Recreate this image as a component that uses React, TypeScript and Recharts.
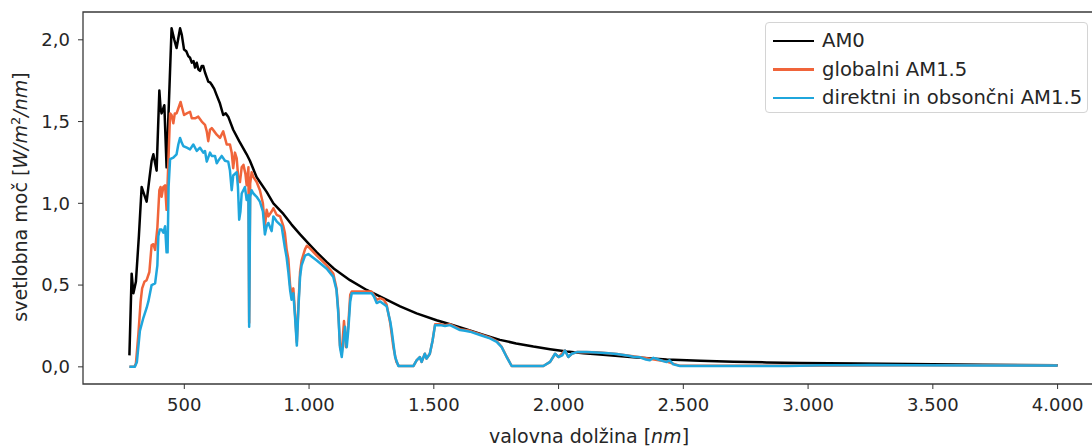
import { LineChart, Line, XAxis, YAxis, ReferenceArea } from 'recharts';

// wavelength [nm] / spectral irradiance [W/m2/nm]
const am0Wl = [
  280, 289, 296, 306, 318, 329, 340, 349, 360, 369, 376, 389, 400, 405, 409, 420, 429, 449, 460, 469,
  476, 483, 490, 499, 508, 516, 523, 530, 537, 543, 550, 556, 563, 570, 576, 583, 590, 596, 603, 610,
  620, 630, 643, 656, 666, 676, 696, 720, 750, 763, 790, 803, 830, 857, 897, 930, 964, 1000, 1031, 1071,
  1100, 1164, 1231, 1298, 1365, 1431, 1511, 1565, 1632, 1700, 1765, 1830, 1899, 1966, 2033, 2100, 2166, 2300, 2433, 2567,
  2700, 2834, 2968, 3200, 3400, 3700, 4000,
];
const am0Val = [
  0.07, 0.57, 0.45, 0.52, 0.8, 1.1, 1.05, 1.01, 1.15, 1.26, 1.3, 1.2, 1.69, 1.58, 1.55, 1.6, 1.22, 2.07, 2.0, 1.95,
  2.01, 2.07, 2.03, 1.94, 1.93, 1.9, 1.89, 1.86, 1.87, 1.83, 1.86, 1.82, 1.81, 1.84, 1.84, 1.8, 1.77, 1.745, 1.74, 1.725,
  1.7, 1.66, 1.61, 1.54, 1.55, 1.53, 1.45, 1.38, 1.3, 1.26, 1.16, 1.13, 1.07, 1.0, 0.935, 0.87, 0.81, 0.75, 0.7, 0.64,
  0.6, 0.53, 0.47, 0.42, 0.37, 0.327, 0.285, 0.26, 0.228, 0.195, 0.165, 0.143, 0.124, 0.108, 0.094, 0.083, 0.075, 0.058, 0.045, 0.037,
  0.031, 0.027, 0.024, 0.02, 0.017, 0.013, 0.01,
];

const globalWl = [
  280, 300, 306, 316, 325, 331, 340, 349, 360, 369, 376, 383, 392, 400, 405, 409, 416, 423, 429, 436,
  443, 449, 456, 462, 469, 476, 485, 492, 499, 510, 523, 530, 543, 556, 570, 583, 590, 596, 603, 610,
  620, 630, 643, 656, 663, 670, 683, 690, 696, 703, 710, 717, 723, 730, 737, 745, 750, 757, 760, 764,
  770, 777, 790, 803, 815, 823, 830, 837, 850, 857, 870, 884, 897, 903, 910, 917, 924, 930, 937, 944,
  951, 958, 964, 970, 984, 991, 1000, 1031, 1071, 1097, 1110, 1117, 1124, 1131, 1140, 1148, 1157, 1165, 1171, 1200,
  1250, 1260, 1271, 1285, 1300, 1311, 1325, 1338, 1350, 1360, 1418, 1431, 1444, 1451, 1464, 1471, 1484, 1495, 1505, 1525,
  1545, 1565, 1605, 1645, 1685, 1725, 1752, 1772, 1792, 1812, 1939, 1966, 1986, 2000, 2026, 2039, 2053, 2073, 2153, 2233,
  2327, 2433, 2487, 2914, 3400, 4000,
];
const globalVal = [
  0, 0, 0.02, 0.2, 0.4, 0.48, 0.52, 0.53, 0.58, 0.745, 0.75, 0.715, 0.85, 1.08, 1.1, 1.04, 1.1, 1.11, 0.96, 1.25,
  1.55, 1.54, 1.49, 1.55, 1.55, 1.58, 1.62, 1.58, 1.54, 1.55, 1.56, 1.52, 1.52, 1.53, 1.5, 1.48, 1.44, 1.38, 1.45, 1.46,
  1.44, 1.42, 1.4, 1.44, 1.4, 1.36, 1.36, 1.31, 1.215, 1.31, 1.275, 1.14, 1.13, 1.22, 1.235, 1.18, 1.11, 1.22, 0.27, 1.12,
  1.19, 1.16, 1.13, 1.08, 1.0, 0.86, 0.96, 0.92, 0.95, 0.97, 0.93, 0.92, 0.86, 0.82, 0.72, 0.66, 0.5, 0.44, 0.48, 0.32,
  0.15, 0.4, 0.58, 0.65, 0.72, 0.74, 0.73, 0.68, 0.62, 0.57, 0.48, 0.35, 0.13, 0.08, 0.28, 0.12, 0.25, 0.44, 0.46, 0.46,
  0.46, 0.44, 0.41, 0.42, 0.41, 0.38, 0.27, 0.12, 0.03, 0.005, 0.005, 0.04, 0.06, 0.03, 0.08, 0.05, 0.08, 0.16, 0.26, 0.26,
  0.255, 0.26, 0.23, 0.22, 0.2, 0.178, 0.157, 0.123, 0.062, 0.005, 0.005, 0.03, 0.08, 0.06, 0.1, 0.06, 0.08, 0.09, 0.089, 0.079,
  0.059, 0.032, 0.006, 0.006, 0.01, 0.009,
];

const directWl = [
  280, 302, 310, 322, 336, 349, 356, 369, 383, 392, 396, 402, 409, 416, 423, 429, 433, 437, 443, 456,
  469, 476, 483, 490, 496, 510, 523, 536, 550, 563, 576, 583, 590, 603, 610, 623, 630, 636, 650, 663,
  676, 683, 690, 696, 710, 715, 720, 725, 730, 743, 750, 757, 760, 764, 770, 777, 790, 803, 815, 823,
  830, 837, 850, 857, 870, 890, 903, 910, 917, 924, 930, 937, 944, 951, 958, 964, 970, 984, 997, 1031,
  1071, 1097, 1110, 1117, 1124, 1131, 1144, 1151, 1157, 1165, 1171, 1200, 1251, 1260, 1271, 1285, 1311, 1325, 1331, 1345,
  1358, 1418, 1431, 1444, 1451, 1464, 1471, 1484, 1495, 1505, 1525, 1545, 1565, 1585, 1605, 1625, 1645, 1685, 1725, 1752,
  1772, 1792, 1812, 1939, 1966, 1986, 2000, 2015, 2026, 2039, 2053, 2073, 2113, 2153, 2200, 2233, 2280, 2300, 2327, 2350,
  2366, 2380, 2400, 2420, 2433, 2445, 2460, 2487, 2914, 2968, 3050, 3168, 3250, 3400, 3700, 4000,
];
const directVal = [
  0, 0, 0.03, 0.22, 0.3, 0.36, 0.4, 0.5, 0.51, 0.62, 0.8, 0.84, 0.84, 0.82, 0.86, 0.7, 0.7, 1.1, 1.27, 1.28,
  1.3, 1.36, 1.4, 1.37, 1.35, 1.34, 1.33, 1.36, 1.32, 1.34, 1.31, 1.32, 1.255, 1.31, 1.29, 1.29, 1.245, 1.26, 1.29, 1.26,
  1.255, 1.2, 1.08, 1.17, 1.19, 1.1, 0.9, 0.95, 1.06, 1.1, 1.02, 1.05, 0.245, 1.04, 1.08, 1.06, 1.04, 1.01, 0.95, 0.81,
  0.86, 0.88, 0.83, 0.92, 0.89, 0.86, 0.73, 0.67, 0.58, 0.47, 0.41, 0.45, 0.3, 0.13, 0.38, 0.55, 0.62, 0.68, 0.69, 0.65,
  0.6, 0.55, 0.47, 0.33, 0.12, 0.06, 0.245, 0.12, 0.22, 0.4, 0.45, 0.45, 0.45, 0.43, 0.39, 0.4, 0.37, 0.28, 0.225, 0.06,
  0.005, 0.005, 0.04, 0.06, 0.03, 0.08, 0.05, 0.08, 0.16, 0.255, 0.255, 0.25, 0.255, 0.24, 0.225, 0.22, 0.215, 0.195, 0.174, 0.153,
  0.12, 0.06, 0.005, 0.005, 0.03, 0.08, 0.06, 0.07, 0.1, 0.06, 0.08, 0.09, 0.09, 0.088, 0.083, 0.078, 0.068, 0.062, 0.058, 0.045,
  0.04, 0.055, 0.045, 0.035, 0.03, 0.04, 0.015, 0.005, 0.005, 0.007, 0.01, 0.009, 0.011, 0.009, 0.008, 0.008,
];

const xTicks = [500, 1000, 1500, 2000, 2500, 3000, 3500, 4000];
const yTicks = [0, 0.5, 1, 1.5, 2];

const series = [
  { name: 'AM0', color: '#000000', wl: am0Wl, val: am0Val },
  { name: 'globalni AM1.5', color: '#f0643a', wl: globalWl, val: globalVal },
  { name: 'direktni in obsončni AM1.5', color: '#1fa6dc', wl: directWl, val: directVal },
];

const FONT = '"DejaVu Sans", sans-serif';
const INK = '#262626';
const X_DOMAIN: [number, number] = [94, 4186];
const Y_DOMAIN: [number, number] = [-0.105, 2.17];

const fmtX = (v: number) =>
  v >= 1000 ? `${Math.floor(v / 1000)}.${String(v % 1000).padStart(3, '0')}` : String(v);
const fmtY = (v: number) => v.toFixed(1).replace('.', ',');

function XTitle() {
  return (
    <text x={589} y={443} textAnchor="middle" fontSize={19} fill={INK} fontFamily={FONT}>
      valovna dolžina [<tspan fontStyle="italic">nm</tspan>]
    </text>
  );
}

function YTitle() {
  return (
    <text
      transform="translate(27,197) rotate(-90)"
      textAnchor="middle"
      fontSize={19}
      fill={INK}
      fontFamily={FONT}
    >
      svetlobna moč [<tspan fontStyle="italic">W/m</tspan>
      <tspan dy={-7} fontSize={13}>2</tspan>
      <tspan dy={7} fontStyle="italic">/nm</tspan>]
    </text>
  );
}

export default function App() {
  const tick = { fill: INK, fontSize: 18, fontFamily: FONT };
  return (
    <div
      style={{
        position: 'absolute', left: 0, top: 0, width: 1092, height: 446,
        overflow: 'hidden', background: '#fff', fontFamily: FONT,
      }}
    >
      <LineChart width={1110} height={446} margin={{ top: 12, right: 6, bottom: 0, left: 13 }}>
        <XAxis
          type="number"
          dataKey="wl"
          domain={X_DOMAIN}
          allowDataOverflow
          ticks={xTicks}
          tickFormatter={fmtX}
          height={62}
          axisLine={false}
          tickLine={{ stroke: '#333' }}
          tickSize={5}
          tickMargin={9}
          tick={tick}
          label={<XTitle />}
        />
        <YAxis
          type="number"
          domain={Y_DOMAIN}
          allowDataOverflow
          ticks={yTicks}
          tickFormatter={fmtY}
          width={70}
          axisLine={false}
          tickLine={{ stroke: '#333' }}
          tickSize={5}
          tickMargin={8}
          tick={tick}
          label={<YTitle />}
        />
        {series.map(s => (
          <Line
            key={s.name}
            name={s.name}
            data={s.wl.map((wl, i) => ({ wl, v: s.val[i] }))}
            dataKey="v"
            type="linear"
            stroke={s.color}
            strokeWidth={2.5}
            strokeLinejoin="round"
            dot={false}
            activeDot={false}
            isAnimationActive={false}
          />
        ))}
        <ReferenceArea
          x1={X_DOMAIN[0]}
          x2={X_DOMAIN[1]}
          y1={Y_DOMAIN[0]}
          y2={Y_DOMAIN[1]}
          fill="none"
          stroke="#3a3a3a"
          strokeWidth={1.3}
          ifOverflow="visible"
        />
      </LineChart>
      <div
        style={{
          position: 'absolute', left: 765, top: 22, width: 323, height: 91,
          border: '1px solid #d4d4d4', borderRadius: 4, boxSizing: 'border-box',
          background: 'rgba(255,255,255,0.85)',
        }}
      >
        {series.map((s, i) => (
          <div key={s.name} style={{ position: 'absolute', left: 0, top: 18 + i * 28.5, width: '100%' }}>
            <div
              style={{
                position: 'absolute', left: 7, top: -1.25, width: 41, height: 2.5, background: s.color,
              }}
            />
            <div
              style={{
                position: 'absolute', left: 56, top: -12, fontSize: 19.6, lineHeight: '24px',
                color: INK, whiteSpace: 'nowrap',
              }}
            >
              {s.name}
            </div>
          </div>
        ))}
      </div>
    </div>
  );
}
